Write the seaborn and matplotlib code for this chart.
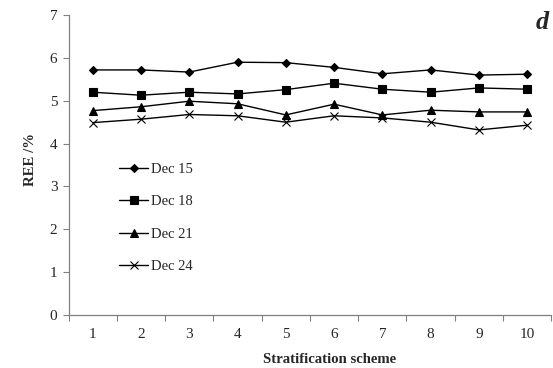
import numpy as np
import pandas as pd
import seaborn as sns

import matplotlib
matplotlib.use("Agg")

import matplotlib.pyplot as plt
from matplotlib.ticker import FixedLocator, NullFormatter

# Data
schemes = [1, 2, 3, 4, 5, 6, 7, 8, 9, 10]
dates = ["Dec 15", "Dec 18", "Dec 21", "Dec 24"]
dec15 = [5.72, 5.72, 5.67, 5.90, 5.89, 5.78, 5.63, 5.72, 5.60, 5.62]
dec18 = [5.20, 5.13, 5.20, 5.16, 5.26, 5.41, 5.27, 5.20, 5.30, 5.27]
dec21 = [4.77, 4.86, 4.99, 4.93, 4.67, 4.92, 4.67, 4.78, 4.74, 4.74]
dec24 = [4.49, 4.57, 4.68, 4.65, 4.50, 4.65, 4.60, 4.50, 4.32, 4.43]

series = {"Dec 15": dec15, "Dec 18": dec18, "Dec 21": dec21, "Dec 24": dec24}
markers = {"Dec 15": ("D", 4.3), "Dec 18": ("s", 5.5), "Dec 21": ("^", 6.0), "Dec 24": ("x", 5.5)}

sns.set_style("white")
plt.rcParams["font.family"] = ["Liberation Serif", "DejaVu Serif"]

fig = plt.figure(figsize=(5.53, 3.68), dpi=100)
ax = fig.add_axes([0.1239, 0.144, 0.8731, 0.815])

for d in dates:
    df = pd.DataFrame({"scheme": schemes, "REE": series[d]})
    m, ms = markers[d]
    sns.lineplot(
        data=df, x="scheme", y="REE",
        color="black", marker=m, markersize=ms,
        markeredgecolor="black", markeredgewidth=0.8,
        linewidth=1.0, label=d, ax=ax,
    )

ax.set_xlim(0.5, 10.5)
ax.set_ylim(0, 7)
ax.set_yticks(range(0, 8))

# category labels in the middle, ticks on the boundaries
ax.set_xticks(schemes)
ax.set_xticklabels([str(s) for s in schemes])
ax.xaxis.set_minor_locator(FixedLocator(np.arange(0.5, 11, 1)))
ax.xaxis.set_minor_formatter(NullFormatter())
ax.tick_params(axis="x", which="major", length=0, pad=9, labelsize=11)
ax.tick_params(axis="x", which="minor", length=4, width=0.8, color="#808080",
               direction="out", bottom=True)
ax.tick_params(axis="y", length=4, width=0.8, color="#808080",
               direction="out", left=True, labelsize=11, pad=4)

for side in ["top", "right"]:
    ax.spines[side].set_visible(False)
for side in ["left", "bottom"]:
    ax.spines[side].set_color("#808080")
    ax.spines[side].set_linewidth(0.9)

ax.set_xlabel("Stratification scheme", fontsize=10.6, fontweight="bold")
ax.xaxis.set_label_coords(0.541, -0.127)
ax.set_ylabel("REE /%", fontsize=10.6, fontweight="bold")
ax.yaxis.set_label_coords(-0.066, 0.52)

ax.legend(
    loc="upper left", bbox_to_anchor=(0.105, 0.507),
    frameon=False, fontsize=10.5,
    handlelength=2.0, handletextpad=0.2,
    labelspacing=1.31, borderpad=0, borderaxespad=0,
)

fig.text(0.993, 0.94, "d", fontsize=19, fontweight="bold", fontstyle="italic",
         ha="right", va="center")

fig.savefig("out.png", dpi=100)
plt.close()
